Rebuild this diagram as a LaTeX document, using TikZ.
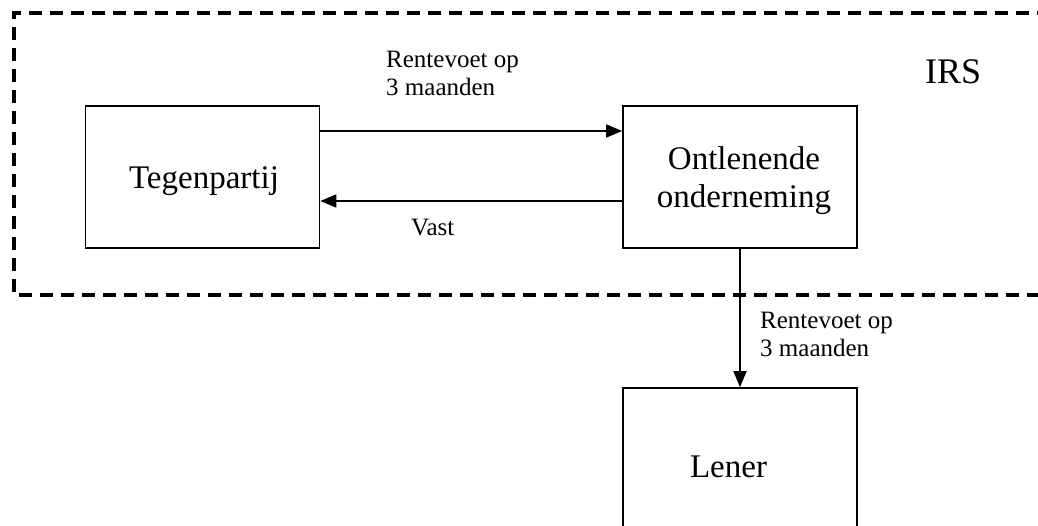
\documentclass[tikz,border=0pt]{standalone}
\usepackage{fontspec}
\setmainfont{Liberation Serif}
\usetikzlibrary{arrows.meta}
\tikzset{
  boxnode/.style={draw, line width=1.6pt, minimum width=234pt, minimum height=142pt, inner sep=0pt},
  bigtext/.style={font=\fontsize{33}{38}\selectfont, inner sep=0pt, align=center},
  smalltext/.style={font=\fontsize{25}{28}\selectfont, inner sep=0pt, align=left},
  conn/.style={line width=1.6pt, -{Triangle[length=16pt,width=13pt]}},
  frame/.style={line width=3.2pt, dash pattern=on 13pt off 8pt}
}
\begin{document}
\begin{tikzpicture}[x=1pt,y=-1pt]
\useasboundingbox (0,0) rectangle (1038,525);
% dashed IRS frame (open on the right)
\draw[frame] (1050,13) -- (14,13) -- (14,295) -- (1050,295);
\node[smalltext, font=\fontsize{36}{40}\selectfont, anchor=base west] (irs) at (925,83) {IRS};
% boxes
\node[boxnode] (teg) at (202.5,177) {};
\node[boxnode] (ont) at (740,177) {};
\node[boxnode, minimum height=160pt] (len) at (740,468) {};
% box texts
\node[bigtext, anchor=base] (tegt) at (204,188) {Tegenpartij};
\node[bigtext, anchor=base] (ontt) at (744,207) {Ontlenende\\onderneming};
\node[bigtext, anchor=base] (lent) at (728.5,477) {Lener};
% connectors
\coordinate (ya) at (0,131);
\coordinate (yb) at (0,201);
\draw[conn] (teg.east |- ya) -- (ont.west |- ya);
\draw[conn] (ont.west |- yb) -- (teg.east |- yb);
\draw[conn] (ont.south) -- (len.north);
% connector labels
\node[smalltext, anchor=base west] (la) at (386,95) {Rentevoet op\\3 maanden};
\node[smalltext, anchor=base west] (lb) at (411,235) {Vast};
\node[smalltext, anchor=base west] (lc) at (760,356) {Rentevoet op\\3 maanden};
\end{tikzpicture}
\end{document}
